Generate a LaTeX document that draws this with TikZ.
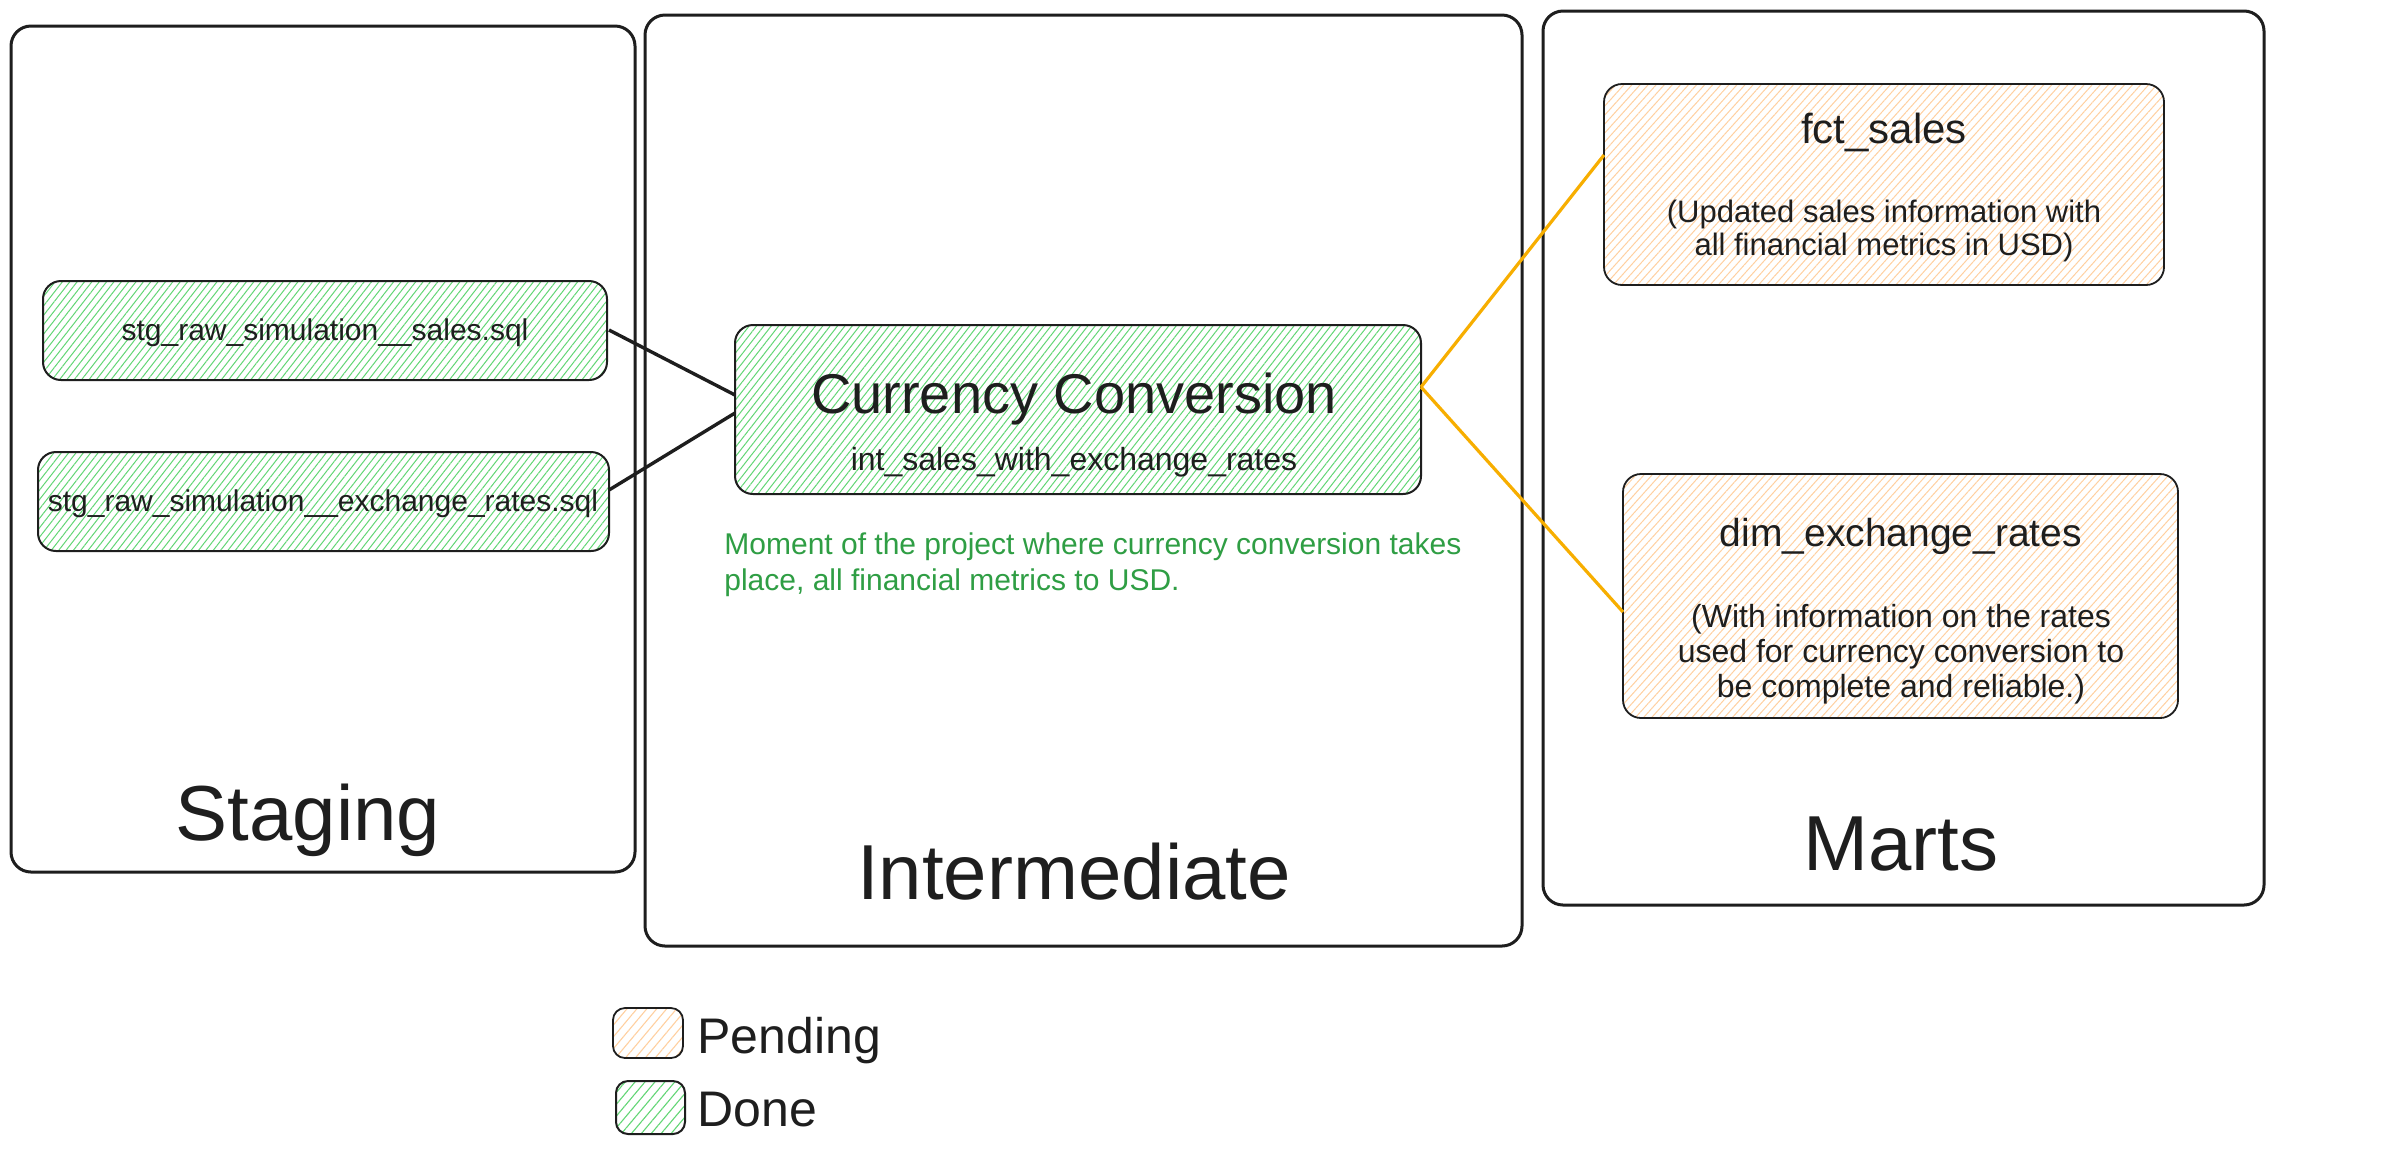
\documentclass[tikz,border=0pt]{standalone}
\usepackage{fontspec}
\setmainfont{Liberation Sans}
\usetikzlibrary{patterns.meta}
\definecolor{ink}{HTML}{1E1E1E}
\definecolor{hatchgreen}{HTML}{62D675}
\definecolor{hatchorange}{HTML}{FFD0A0}
\definecolor{notegreen}{HTML}{2F9E44}
\definecolor{linkyellow}{HTML}{F7AE00}
\newcommand{\fs}[2]{\fontsize{#1}{#2}\selectfont}
\begin{document}
\begin{tikzpicture}[x=0.5pt,y=-0.5pt,
  container/.style={draw=ink, line width=1.5pt, rounded corners=10pt, inner sep=0pt},
  donebox/.style={draw=ink, line width=1pt, rounded corners=9pt, inner sep=0pt,
    pattern={Lines[angle=52,distance=2.9pt,line width=0.5pt]}, pattern color=hatchgreen},
  pendbox/.style={draw=ink, line width=0.9pt, rounded corners=9pt, inner sep=0pt,
    pattern={Lines[angle=48,distance=3pt,line width=0.5pt]}, pattern color=hatchorange},
  legdone/.style={donebox, rounded corners=6pt, pattern={Lines[angle=50,distance=3.8pt,line width=0.55pt]}},
  legpend/.style={pendbox, rounded corners=6pt, pattern={Lines[angle=50,distance=3.8pt,line width=0.55pt]}},
  txt/.style={text=ink, inner sep=0pt, align=center},
  blackline/.style={draw=ink, line width=1.7pt},
  yellowline/.style={draw=linkyellow, line width=1.6pt}]
\useasboundingbox (0,0) rectangle (2381,1153);
\fill[white] (0,0) rectangle (2381,1153);

% containers
\node[container, minimum width=312pt, minimum height=423pt] (staging) at (323,449) {};
\node[container, minimum width=438.5pt, minimum height=465.5pt] (intermediate) at (1083.5,480.5) {};
\node[container, minimum width=360.5pt, minimum height=447pt] (marts) at (1903.5,458) {};

\node[txt, font=\fs{39}{44}] (stagingl) at (308,820) {Staging};
\node[txt, font=\fs{39}{44}] (intermediatel) at (1074,872) {Intermediate};
\node[txt, font=\fs{39}{44}] (martsl) at (1901,844) {Marts};

% staging boxes
\node[donebox, minimum width=282pt, minimum height=49.5pt] (s1) at (325,330.5) {};
\node[txt, font=\fs{15}{18}] (s1t) at (325,333) {stg\_raw\_simulation\_\_sales.sql};
\node[donebox, minimum width=285.5pt, minimum height=49.5pt] (s2) at (323.5,501.5) {};
\node[txt, font=\fs{15}{18}] (s2t) at (323,504) {stg\_raw\_simulation\_\_exchange\_rates.sql};

% intermediate
\node[donebox, minimum width=343pt, minimum height=84.5pt] (cc) at (1078,409.5) {};
\node[txt, font=\fs{28}{32}] (cct) at (1074,399) {Currency Conversion};
\node[txt, font=\fs{16}{19}] (ccs) at (1074,462) {int\_sales\_with\_exchange\_rates};
\node[text=notegreen, inner sep=0pt, align=left, anchor=west, font=\fs{15}{18}] (note) at (724,565)
  {Moment of the project where currency conversion takes\\place, all financial metrics to USD.};

% marts
\node[pendbox, minimum width=280pt, minimum height=100.5pt] (fct) at (1884,184.5) {};
\node[txt, font=\fs{21}{25}] (fctt) at (1884,132) {fct\_sales};
\node[txt, font=\fs{15.5}{16.5}] (fctd) at (1884,230.5) {(Updated sales information with\\all financial metrics in USD)};
\node[pendbox, minimum width=277.5pt, minimum height=122pt] (dim) at (1900.5,596) {};
\node[txt, font=\fs{19.5}{23}] (dimt) at (1901,536) {dim\_exchange\_rates};
\node[txt, font=\fs{16}{17.5}] (dimd) at (1901,654) {(With information on the rates\\used for currency conversion to\\be complete and reliable.)};

% connectors
\coordinate (ccin1) at (735,395);
\coordinate (ccin2) at (735,413);
\coordinate (ccout) at (1421,387);
\coordinate (fctin) at (1604,155);
\coordinate (dimin) at (1623,612);
\coordinate (s1out) at (609,330);
\coordinate (s2out) at (609,490);
\draw[blackline] (s1out) -- (ccin1);
\draw[blackline] (s2out) -- (ccin2);
\draw[yellowline] (ccout) -- (fctin);
\draw[yellowline] (ccout) -- (dimin);

% legend
\node[legpend, minimum width=35pt, minimum height=25pt] (lp) at (648,1033) {};
\node[txt, anchor=west, font=\fs{25}{30}] (lpt) at (697,1041) {Pending};
\node[legdone, minimum width=34.5pt, minimum height=26.5pt] (ld) at (650.5,1107.5) {};
\node[txt, anchor=west, font=\fs{25}{30}] (ldt) at (697,1110) {Done};
\end{tikzpicture}
\end{document}
